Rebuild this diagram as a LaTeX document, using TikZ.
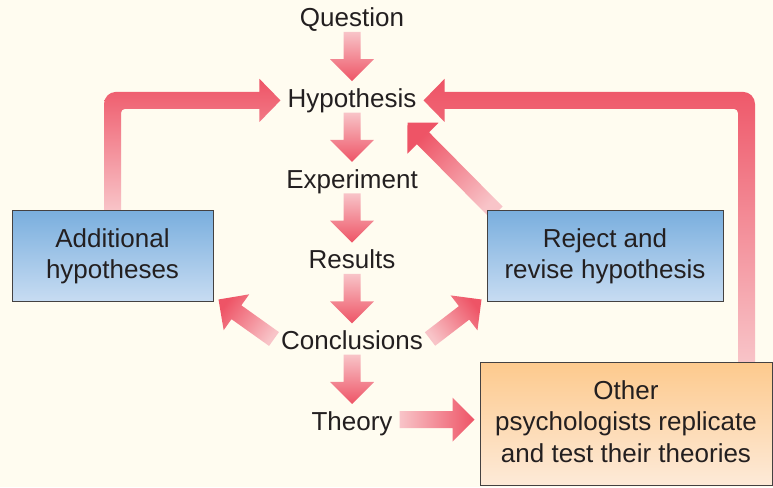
\documentclass[tikz,border=0pt]{standalone}
\usepackage{fontspec}
\setmainfont{Liberation Sans}
\usetikzlibrary{calc,backgrounds}

\definecolor{paper}{HTML}{FFFCF0}
\definecolor{arrowred}{HTML}{EE5466}
\definecolor{arrowpale}{HTML}{F8C4C8}
\definecolor{bluetop}{HTML}{7AAFDE}
\definecolor{bluebot}{HTML}{C8DCF2}
\definecolor{orangetop}{HTML}{FDCA8E}
\definecolor{orangebot}{HTML}{FDEAD8}
\definecolor{ink}{HTML}{231F20}

\tikzset{
  stage/.style={text=ink, anchor=base, inner xsep=7pt, inner ysep=3pt, text height=23pt, text depth=2pt},
  bluebox/.style={draw=ink!85, line width=1pt, text=ink, align=center, inner sep=0pt, top color=bluetop, bottom color=bluebot},
  orangebox/.style={draw=ink!85, line width=1pt, text=ink, align=center, inner sep=0pt, top color=orangetop, bottom color=orangebot},
  flow/.style={top color=arrowred, bottom color=arrowpale},
}

% block arrow: tail, tip, shading angle
\newcommand{\flowarrow}[3]{%
  \path (#1) coordinate (fa-t) (#2) coordinate (fa-h);
  \path ($(fa-h)!22pt!(fa-t)$) coordinate (fa-b);
  \shade[flow, shading angle=#3] ($(fa-t)!8.5pt!90:(fa-h)$) -- ($(fa-b)!8.5pt!90:(fa-h)$)
    -- ($(fa-b)!22pt!90:(fa-h)$) -- (fa-h) -- ($(fa-b)!22pt!-90:(fa-h)$)
    -- ($(fa-b)!8.5pt!-90:(fa-h)$) -- ($(fa-t)!8.5pt!-90:(fa-h)$) -- cycle;
}

\begin{document}
\begin{tikzpicture}[x=1pt, y=1pt, font=\fontsize{26}{31.5}\selectfont]
  \useasboundingbox (0,0) rectangle (773,487);
  \begin{pgfonlayer}{background}
    \fill[paper] (0,0) rectangle (773,487);
  \end{pgfonlayer}

  \node[stage] (que) at (352,460.3) {Question};
  \node[stage] (hyp) at (352,379.6) {Hypothesis};
  \node[stage] (exp) at (352,298.9) {Experiment};
  \node[stage] (res) at (352,218.2) {Results};
  \node[stage] (con) at (352,137.5) {Conclusions};
  \node[stage] (thy) at (352,56.8) {Theory};

  \node[bluebox, minimum width=201pt, minimum height=91pt] (add) at (112.5,230.5) {Additional\\hypotheses};
  \node[bluebox, minimum width=236pt, minimum height=91pt] (rej) at (605,230.5) {Reject and\\revise hypothesis};
  \node[orangebox, minimum width=292pt, minimum height=122pt] (oth) at (626,63) {Other\\psychologists replicate\\and test their theories\vphantom{p}};

  \begin{pgfonlayer}{background}
    \flowarrow{que.south}{hyp.north}{180}
    \flowarrow{hyp.south}{exp.north}{180}
    \flowarrow{exp.south}{res.north}{180}
    \flowarrow{res.south}{con.north}{180}
    \flowarrow{con.south}{thy.north}{180}
    \flowarrow{thy.east}{$(oth.west |- thy.east)+(-5pt,0)$}{-90}
    \flowarrow{con.west}{$(add.south east)+(5pt,3pt)$}{54.5}
    \flowarrow{con.east}{$(rej.south west)+(-5pt,3pt)$}{-52.5}
    \flowarrow{$(rej.north west)+(10pt,-2pt)$}{$(hyp.south east)+(-16pt,-10pt)$}{45}
    % loop from the left box
    \shade[flow] let \p1=(add.north), \p2=($(hyp.west)+(0,-3.5pt)$) in
      (\x1-8.5pt,\y1) -- (\x1-8.5pt,\y2-3.5pt) arc[start angle=180, end angle=90, radius=12pt]
      -- (\x2-21pt,\y2+8.5pt) -- (\x2-21pt,\y2+21.5pt) -- (\p2) -- (\x2-21pt,\y2-21.5pt)
      -- (\x2-21pt,\y2-8.5pt) -- (\x1+12.5pt,\y2-8.5pt) arc[start angle=90, end angle=180, radius=4pt]
      -- (\x1+8.5pt,\y1) -- cycle;
    % loop from the orange box
    \shade[flow] let \p1=($(oth.north east)+(-26pt,0)$), \p2=($(hyp.east)+(0,-3.5pt)$) in
      (\x1+8.5pt,\y1) -- (\x1+8.5pt,\y2-3.5pt) arc[start angle=0, end angle=90, radius=12pt]
      -- (\x2+21pt,\y2+8.5pt) -- (\x2+21pt,\y2+21.5pt) -- (\p2) -- (\x2+21pt,\y2-21.5pt)
      -- (\x2+21pt,\y2-8.5pt) -- (\x1-12.5pt,\y2-8.5pt) arc[start angle=90, end angle=0, radius=4pt]
      -- (\x1-8.5pt,\y1) -- cycle;
  \end{pgfonlayer}
\end{tikzpicture}
\end{document}
